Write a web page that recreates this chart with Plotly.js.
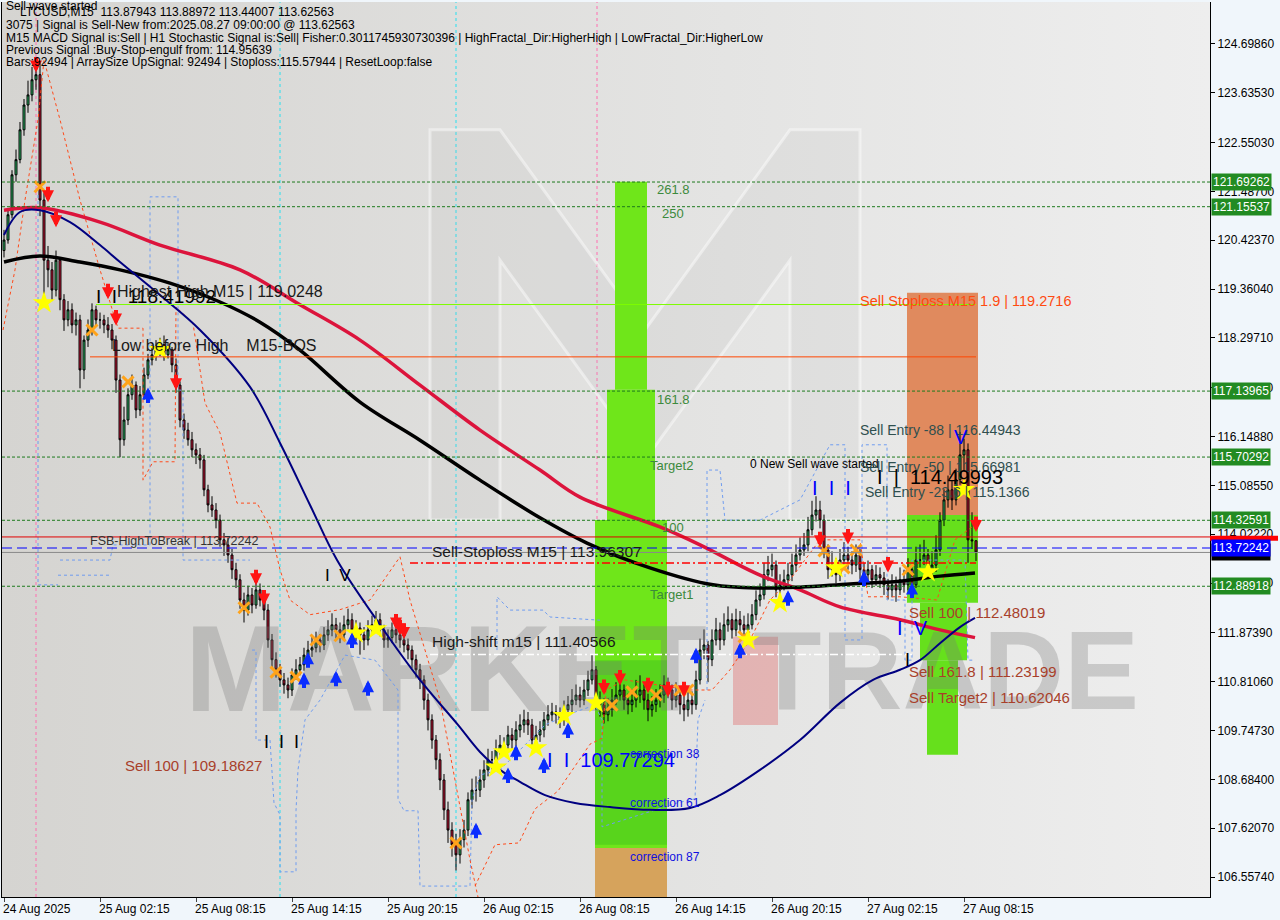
<!DOCTYPE html>
<html><head><meta charset="utf-8">
<script src="https://cdn.plot.ly/plotly-3.0.1.min.js"></script>
<style>html,body{margin:0;padding:0;background:#f0f6fb;}#chart{width:1280px;height:920px;}</style>
</head><body><div id="chart"></div>
<script>
// ---------- DATA ----------
const tickBars = [0,24,48,72,96,120,144,168,192,216,240];
const tickLabels = ['24 Aug 2025','25 Aug 02:15','25 Aug 08:15','25 Aug 14:15','25 Aug 20:15','26 Aug 02:15','26 Aug 08:15','26 Aug 14:15','26 Aug 20:15','27 Aug 02:15','27 Aug 08:15'];
const priceTicks = [124.6986,123.6353,122.5503,121.487,120.4237,119.3604,118.2971,117.2131,116.1488,115.0855,114.0222,112.9589,111.8739,110.8106,109.7473,108.684,107.6207,106.5574];

const open = [
120.20,120.43,120.98,121.85,122.18,122.83,123.37,123.59,123.92,124.03,
121.30,119.99,119.78,119.34,119.99,119.13,118.69,118.91,118.58,118.69,
117.60,118.25,118.47,118.91,118.69,118.69,118.58,118.47,118.25,117.38,
116.08,116.51,117.06,117.27,116.73,117.06,117.49,117.82,117.93,118.04,
118.15,117.93,118.04,117.71,117.27,116.51,116.29,116.08,115.86,115.75,
115.64,114.99,114.66,114.55,114.33,113.90,113.79,113.57,113.25,113.03,
112.59,112.37,112.70,112.48,112.81,112.59,112.37,111.72,111.29,111.07,
110.85,110.74,110.63,110.96,111.07,111.18,111.39,111.50,111.55,111.72,
111.61,111.83,111.94,112.05,111.94,111.83,112.05,112.16,111.94,111.98,
111.83,111.72,111.94,112.05,112.16,111.94,111.72,111.77,111.94,111.83,
111.72,111.61,111.50,111.29,111.07,110.85,110.41,109.98,109.54,109.11,
108.67,108.02,107.58,107.26,107.04,107.37,107.58,108.24,108.45,108.45,
108.67,108.89,109.11,109.11,109.33,109.43,109.43,109.65,109.54,109.76,
109.87,109.98,109.87,109.54,109.65,109.76,109.98,110.09,110.15,110.09,
109.98,110.20,110.31,110.41,110.52,110.41,110.63,110.85,111.07,110.41,
110.31,110.09,110.20,110.41,110.52,110.63,110.41,110.31,110.41,110.52,
110.63,110.41,110.20,110.31,110.41,110.52,110.74,110.63,110.41,110.52,
110.31,110.20,110.41,110.31,110.85,111.50,111.61,111.29,111.72,111.94,
111.72,112.05,112.16,111.94,112.16,112.05,111.94,112.05,112.27,112.59,
112.70,113.14,113.25,113.35,112.81,112.92,113.03,113.14,113.35,113.57,
113.68,113.79,114.12,114.44,114.55,114.33,113.68,113.25,113.35,113.14,
113.46,113.57,113.46,113.35,113.57,113.25,113.14,113.25,113.03,113.14,
113.07,112.92,112.81,112.92,112.81,113.03,112.92,113.25,112.92,113.46,
113.46,113.57,113.25,113.35,113.68,114.33,114.77,114.99,114.77,115.21,
115.75,115.86,113.90,113.88];
const high = [
120.65,121.10,121.95,122.40,123.00,123.50,123.90,124.20,124.40,124.30,
121.45,120.30,119.95,120.20,120.05,119.25,119.10,119.05,118.85,118.80,
118.35,118.70,119.05,119.00,118.85,118.80,118.75,118.60,118.35,117.50,
116.80,117.20,117.50,117.35,117.25,117.65,117.95,118.15,118.25,118.30,
118.35,118.20,118.10,117.85,117.35,116.65,116.45,116.25,116.00,115.90,
115.75,115.10,114.85,114.70,114.45,114.05,113.95,113.70,113.40,113.15,
112.75,112.90,112.85,113.00,112.95,112.70,112.50,111.85,111.45,111.20,
111.00,110.90,111.10,111.30,111.35,111.55,111.70,111.80,111.90,111.85,
112.00,112.15,112.30,112.20,112.10,112.25,112.40,112.30,112.15,112.10,
112.00,112.15,112.25,112.35,112.30,112.05,111.95,112.10,112.05,111.95,
111.85,111.75,111.60,111.40,111.20,110.95,110.55,110.10,109.65,109.25,
108.80,108.20,107.75,107.50,107.60,107.80,108.40,108.70,108.75,108.90,
109.10,109.35,109.30,109.55,109.65,109.60,109.85,109.80,109.95,110.10,
110.20,110.15,110.00,109.85,109.95,110.15,110.30,110.35,110.30,110.25,
110.40,110.50,110.65,110.75,110.70,110.85,111.05,111.40,111.15,110.60,
110.45,110.45,110.65,110.80,111.00,110.75,110.55,110.65,110.85,110.95,
110.75,110.55,110.50,110.65,110.75,110.95,110.90,110.75,110.80,110.65,
110.50,110.65,110.60,111.05,111.75,111.95,111.70,111.95,112.20,112.10,
112.30,112.45,112.30,112.40,112.35,112.25,112.30,112.50,112.80,112.95,
113.40,113.55,113.60,113.45,113.15,113.25,113.40,113.60,113.80,113.95,
114.05,114.40,114.75,114.85,114.75,114.45,113.80,113.65,113.50,113.70,
113.85,113.75,113.65,113.80,113.70,113.40,113.45,113.35,113.35,113.30,
113.20,113.05,113.15,113.10,113.30,113.25,113.50,113.35,113.75,113.80,
113.90,113.70,113.65,114.00,114.50,115.00,115.30,115.20,115.45,116.25,
116.10,116.00,114.50,113.89];
const low = [
120.05,120.35,120.90,121.70,122.10,122.70,123.20,123.45,123.70,120.95,
119.10,119.40,119.10,119.20,118.90,118.45,118.55,118.40,118.35,117.20,
117.40,118.10,118.35,118.55,118.50,118.40,118.30,118.05,117.10,115.70,
115.95,116.40,116.95,116.55,116.60,116.95,117.40,117.70,117.80,117.90,
117.80,117.85,117.55,117.10,116.35,116.10,115.95,115.70,115.55,115.45,
114.85,114.50,114.40,114.15,113.75,113.55,113.40,113.05,112.85,112.40,
112.10,112.25,112.30,112.40,112.45,112.15,111.55,111.10,110.90,110.70,
110.55,110.45,110.50,110.85,110.95,111.05,111.30,111.35,111.45,111.45,
111.50,111.70,111.80,111.75,111.65,111.70,111.95,111.75,111.70,111.40,
111.50,111.60,111.85,111.95,111.80,111.55,111.55,111.65,111.65,111.55,
111.45,111.30,111.10,110.90,110.65,110.20,109.75,109.35,108.90,108.45,
107.80,107.30,107.00,106.70,106.85,107.20,107.45,108.05,108.20,108.30,
108.50,108.75,108.90,108.95,109.20,109.25,109.30,109.35,109.40,109.60,
109.70,109.65,109.35,109.40,109.50,109.60,109.85,109.95,109.90,109.80,
109.85,110.10,110.15,110.30,110.25,110.30,110.50,110.75,110.20,110.05,
109.90,109.95,110.05,110.30,110.40,110.20,110.10,110.15,110.25,110.35,
110.20,109.95,110.05,110.15,110.25,110.35,110.45,110.20,110.25,110.10,
109.95,110.05,110.10,110.20,110.75,111.30,110.80,111.15,111.60,111.50,
111.60,111.90,111.75,111.80,111.85,111.70,111.80,111.95,112.15,112.45,
112.60,113.00,113.10,112.65,112.70,112.80,112.90,113.00,113.20,113.45,
113.55,113.65,114.00,114.30,114.15,113.50,113.05,113.10,112.95,113.00,
113.30,113.25,113.15,113.20,113.05,112.95,113.00,112.85,112.90,112.85,
112.70,112.60,112.65,112.55,112.70,112.75,112.80,112.70,112.85,113.30,
113.35,113.10,113.10,113.20,113.55,114.20,114.60,114.55,114.65,115.10,
115.40,113.40,113.70,113.44];
const close = [
120.43,120.98,121.85,122.18,122.83,123.37,123.59,123.92,124.03,121.30,
119.99,119.78,119.34,119.99,119.13,118.69,118.91,118.58,118.69,117.60,
118.25,118.47,118.91,118.69,118.69,118.58,118.47,118.25,117.38,116.08,
116.51,117.06,117.27,116.73,117.06,117.49,117.82,117.93,118.04,118.15,
117.93,118.04,117.71,117.27,116.51,116.29,116.08,115.86,115.75,115.64,
114.99,114.66,114.55,114.33,113.90,113.79,113.57,113.25,113.03,112.59,
112.37,112.70,112.48,112.81,112.59,112.37,111.72,111.29,111.07,110.85,
110.74,110.63,110.96,111.07,111.18,111.39,111.50,111.55,111.72,111.61,
111.83,111.94,112.05,111.94,111.83,112.05,112.16,111.94,111.98,111.83,
111.72,111.94,112.05,112.16,111.94,111.72,111.77,111.94,111.83,111.72,
111.61,111.50,111.29,111.07,110.85,110.41,109.98,109.54,109.11,108.67,
108.02,107.58,107.26,107.04,107.37,107.58,108.24,108.45,108.45,108.67,
108.89,109.11,109.11,109.33,109.43,109.43,109.65,109.54,109.76,109.87,
109.98,109.87,109.54,109.65,109.76,109.98,110.09,110.15,110.09,109.98,
110.20,110.31,110.41,110.52,110.41,110.63,110.85,111.07,110.41,110.31,
110.09,110.20,110.41,110.52,110.63,110.41,110.31,110.41,110.52,110.63,
110.41,110.20,110.31,110.41,110.52,110.74,110.63,110.41,110.52,110.31,
110.20,110.41,110.31,110.85,111.50,111.61,111.29,111.72,111.94,111.72,
112.05,112.16,111.94,112.16,112.05,111.94,112.05,112.27,112.59,112.70,
113.14,113.25,113.35,112.81,112.92,113.03,113.14,113.35,113.57,113.68,
113.79,114.12,114.44,114.55,114.33,113.68,113.25,113.35,113.14,113.46,
113.57,113.46,113.35,113.57,113.25,113.14,113.25,113.03,113.14,113.07,
112.92,112.81,112.92,112.81,113.03,112.92,113.25,112.92,113.46,113.46,
113.57,113.25,113.35,113.68,114.33,114.77,114.99,114.77,115.21,115.75,
115.86,113.90,113.88,113.63];

// moving averages (bar, price)
const maBlackBar = [0,9,19,29,41.5,54,64,74,89,104,119,134,145.75,161.5,177.25,189,199,211.5,224,234,242.75];
const maBlackVal = [119.95,120.08,119.95,119.78,119.49,119.08,118.64,118.03,116.90,116.07,115.20,114.38,113.83,113.29,112.92,112.85,112.87,112.94,113.00,113.11,113.18];
const maRedBar = [0,9,24,39,59,74,89,104,119,134,144,164,174,189,199,209,224,234,242.75];
const maRedVal = [121.08,121.13,120.82,120.32,119.78,119.02,118.25,117.27,116.29,115.42,114.83,114.18,113.79,113.13,112.81,112.44,112.16,111.94,111.77];
const maNavyBar = [0,4,9,16.5,24,29,39,49,61.5,69,76.5,83.25,94,104,113.5,119,124,129,135.25,142.75,151.5,161.5,171.5,179,189,199,209,217.25,224,229,234,239,242.75];
const maNavyVal = [120.54,121.04,121.08,120.82,120.32,119.95,119.23,118.47,117.23,116.01,114.66,113.46,112.05,110.85,109.87,109.28,108.89,108.63,108.34,108.17,108.08,108.02,108.06,108.34,108.89,109.54,110.35,110.85,111.07,111.28,111.65,112.00,112.20];

// trailing-stop dashed lines (bar, price)
const stopABar = [-0.25,2.75,5.25,8.5,10,14,19,24,28.5,34.75,34.75,37.25,42.75,43,47.25,50.25,54,58.25,63.25,66.5,69,71.5,76.5,84,91.5,99,101.5,105.25,109,112.75,116.5,118.5];
const stopAVal = [118.47,119.78,121.30,123.05,124.35,123.05,121.30,119.78,118.51,118.51,115.20,115.60,115.60,118.97,118.62,116.88,116.23,114.70,114.70,114.18,113.25,112.59,112.27,112.38,112.59,113.53,112.59,111.50,110.41,108.67,106.93,106.12];
const stopBBar = [117.75,122.75,128.75,132.75,138.5,146.5,149.5,150.5,155.25,164,171.5,177,181.5,186.5,191.5,196.5,204,214,216,224,233.25,237.75,242.75];
const stopBVal = [106.36,107.26,107.30,108.04,108.43,109.45,109.58,110.63,110.85,110.74,110.63,110.63,111.07,111.72,112.59,113.03,113.90,113.90,112.66,112.66,112.59,113.90,114.23];

// fractal channel dashed line (bar, price; null = gap)
const fractalBar = [8.5,8.5,13.5,null,13.5,26.5,null,14,26.5,27.25,36.5,36.5,43.5,43.5,44.75,44.75,61.5,null,
  62,63,63,66.5,67.5,69,69,73,73,73.5,75.25,79,85.25,92.75,98.5,98.5,100,103.5,104,116.5,117,119,124,129,135.25,142.75,147.75,149.5,149.5,168.25,172.75,173.5,175.25,null,
  123.25,123.25,126.5,134.75,136.5,149,null,
  175.75,175.75,179,180.25,189,199,206.5,210.25,210.25,214.5,214.5,220.75,220.75,225.25,225.25,227,227,240.25,241,242.75];
const fractalVal = [121.41,112.92,112.92,null,113.13,113.13,null,113.46,113.46,113.79,113.79,121.37,121.37,117.16,117.16,113.46,113.46,null,
  111.50,111.50,109.54,109.54,108.17,107.91,106.67,106.67,108.00,108.89,109.98,110.41,111.39,111.28,110.63,108.26,108.00,108.00,106.36,106.36,108.24,108.78,108.89,109.32,109.87,110.15,110.30,109.98,107.65,108.17,108.26,109.98,110.41,null,
  111.50,112.66,112.37,112.37,112.22,112.15,null,
  110.63,115.42,115.42,114.33,114.33,114.77,115.97,115.97,111.72,111.72,115.97,115.97,112.59,112.59,111.28,111.28,113.46,113.46,111.28,111.28];

// signal markers (bar, price)
const starBar = [10,39,88,93,123,125,133,140,148,186,194,208,231,240];
const starVal = [119.06,118.04,111.87,111.96,108.95,109.28,109.37,110.07,110.35,111.72,112.53,113.29,113.20,114.99];
const crossBar = [9,22,31,60,68,73,78,84,113,152,157,163,169,171,185,205,210,213,226];
const crossVal = [121.59,118.47,117.34,112.42,111.02,110.91,111.72,111.81,107.30,110.30,110.59,110.52,110.63,110.63,111.79,113.66,113.29,113.68,113.25];
const downBar = [8,11,13,26,28,43,63,65,98,99,100,150,154,161,166,170,204,211,221,243];
const downVal = [124.08,121.25,120.71,119.14,118.57,117.16,112.91,112.47,111.95,111.82,111.74,110.52,110.73,110.56,110.47,110.47,113.74,113.80,113.19,114.07];
const upBar = [36,75,76,83,87,91,118,126,128,135,141,173,184,196,215,227];
const upVal = [117.22,111.01,111.45,111.05,111.88,110.84,107.74,108.94,109.44,109.16,109.92,111.55,111.66,112.80,113.23,112.97];

// levels
const greenLevels = [121.69262,121.15537,117.13965,115.70292,114.32591,112.88918];
const sellStoploss = 113.96307, fsbHigh = 113.72242, lastPrice = 113.62563;
const highestHigh = 119.0248, lowBeforeHigh = 117.885, highShift = 111.40566, redDashLevel = 113.396;

// zones: [barFrom, barTo, priceLow, priceHigh]
const fibZones = [[152.75,160.75,117.17,121.70],[150.75,162.75,114.33,117.17],[147.75,165.75,107.19,114.33]];
const fibBase = [147.75,165.75,106.12,107.19];
const sellStopZone = [225.75,243.5,114.44,119.28];
const sellZones = [[225.75,243.5,112.53,114.44],[229,240.75,111.28,112.53],[230.75,238.5,109.22,111.28]];

// ---------- BUILD ----------
const bar = close.map((_, i) => i);
const FONT = 'Liberation Sans, Arial, sans-serif';

const traces = [];
traces.push({type:'scatter', mode:'text', x:[110.5], y:[110.83], text:['MARKET'], textfont:{family:FONT, size:122, color:'rgba(120,120,120,0.30)', weight:'bold'}, hoverinfo:'skip'});
traces.push({type:'scatter', mode:'text', x:[235.5], y:[110.83], text:['TRADE'], textfont:{family:FONT, size:112, color:'rgba(120,120,120,0.30)', weight:'bold'}, hoverinfo:'skip'});

traces.push({type:'scatter', mode:'lines', x:fractalBar, y:fractalVal, connectgaps:false, line:{color:'#6f9cf0', width:1, dash:'3px,3px'}, hoverinfo:'skip'});
traces.push({type:'scatter', mode:'lines', x:stopABar, y:stopAVal, line:{color:'#ff4a1a', width:1, dash:'3px,3px'}, hoverinfo:'skip'});
traces.push({type:'scatter', mode:'lines', x:stopBBar, y:stopBVal, line:{color:'#ff4a1a', width:1, dash:'3px,3px'}, hoverinfo:'skip'});

traces.push({type:'scatter', mode:'lines', x:maRedBar, y:maRedVal, line:{color:'#dc143c', width:3.5, shape:'spline'}, hoverinfo:'skip'});
traces.push({type:'scatter', mode:'lines', x:maBlackBar, y:maBlackVal, line:{color:'#000000', width:3.5, shape:'spline'}, hoverinfo:'skip'});
traces.push({type:'scatter', mode:'lines', x:maNavyBar, y:maNavyVal, line:{color:'#000080', width:2, shape:'spline'}, hoverinfo:'skip'});

traces.push({type:'candlestick', x:bar, open:open, high:high, low:low, close:close,
  increasing:{line:{color:'#000', width:1}, fillcolor:'#2fbf6a'},
  decreasing:{line:{color:'#000', width:1}, fillcolor:'#d4173a'},
  whiskerwidth:0, hoverinfo:'skip'});

traces.push({type:'scatter', mode:'markers', x:crossBar, y:crossVal, marker:{symbol:'x-thin', size:11, line:{color:'#ffa31a', width:3}}, hoverinfo:'skip'});
traces.push({type:'scatter', mode:'markers', x:starBar, y:starVal, marker:{symbol:'star', size:17, color:'#ffff00', line:{width:0}}, hoverinfo:'skip'});

// shapes
const shapes = [];
shapes.push({type:'path', xref:'x', yref:'y', path:'M106.5,114.33 L106.5,122.83 L124,122.83 L160.25,118.47 L196.5,122.83 L214,122.83 L214,114.33 L196.5,114.33 L196.5,119.99 L160.25,115.64 L124,119.99 L124,114.33 Z', fillcolor:'rgba(175,175,175,0.13)', line:{color:'rgba(255,255,255,0.45)', width:3}, layer:'below'});
const rect = (z, color) => ({type:'rect', xref:'x', yref:'y', x0:z[0], x1:z[1], y0:z[2], y1:z[3], fillcolor:color, line:{width:0}, layer:'below'});
fibZones.forEach(z => shapes.push(rect(z, '#6fe61a')));
shapes.push(rect([147.75,165.75,107.26,111.28], 'rgba(60,190,30,0.45)'));
shapes.push(rect(fibBase, '#d6a35c'));
shapes.push(rect(sellStopZone, '#e08a5e'));
sellZones.forEach(z => shapes.push(rect(z, '#66e01c')));
shapes.push({type:'rect', xref:'x', yref:'y', x0:182.25, x1:193.5, y0:109.87, y1:111.79, fillcolor:'rgba(225,120,120,0.45)', line:{width:0}, layer:'below'});

const vline = (b, color) => ({type:'line', xref:'x', yref:'paper', x0:b, x1:b, y0:0, y1:1, line:{color:color, width:1, dash:'3px,3px'}, layer:'below'});
shapes.push(vline(8, '#ff6fb0'), vline(148.25, '#ff6fb0'), vline(69, '#27e0f0'), vline(113, '#27e0f0'));

const hline = (p, color, dash, x0, x1, w) => ({type:'line', xref: x0===undefined?'paper':'x', yref:'y', x0: x0===undefined?0:x0, x1: x1===undefined?1:x1, y0:p, y1:p, line:{color:color, width:w||1, dash:dash}});
greenLevels.forEach(p => shapes.push(hline(p, '#1e7b1e', '3px,2px')));
shapes.push(hline(sellStoploss, '#e00000', 'solid'));
shapes.push(hline(fsbHigh, '#0000ff', '10px,5px'));
shapes.push(hline(lastPrice, '#8a8a8a', 'solid'));
shapes.push(hline(highestHigh, '#7cfc00', 'solid', 23, 243));
shapes.push(hline(lowBeforeHigh, '#ff4500', 'solid', 21.5, 243));
shapes.push(hline(redDashLevel, '#ff0000', '8px,3px,2px,3px', 101.5, 243, 1.5));
shapes.push(hline(highShift, '#ffffff', '8px,3px,2px,3px', 106.5, 227, 1.5));
shapes.push({type:'rect', xref:'paper', yref:'y', x0:1, x1:1.0563, y0:113.88, y1:113.99, fillcolor:'#ff0000', line:{width:0}, layer:'above'});

// annotations
const ann = [];
// signal arrows (stem + head), drawn at the data points
downBar.forEach((b, i) => ann.push({xref:'x', yref:'y', x:b, y:downVal[i], text:'', showarrow:true, arrowhead:2, arrowsize:0.6, arrowwidth:4, arrowcolor:'#ff1414', ax:0, ay:-17, standoff:0}));
upBar.forEach((b, i) => ann.push({xref:'x', yref:'y', x:b, y:upVal[i], text:'', showarrow:true, arrowhead:2, arrowsize:0.6, arrowwidth:4, arrowcolor:'#0a2cff', ax:0, ay:17, standoff:0}));

const T = (b, p, text, color, size) => ann.push({xref:'x', yref:'y', x:b, y:p, text:text, showarrow:false, xanchor:'left', yanchor:'middle', font:{family:FONT, size:size, color:color}});
const headerY = px => 1 - (px - 2) / 895;
const H = (px, x, text) => ann.push({xref:'paper', yref:'paper', x:x, y:headerY(px), text:text, showarrow:false, xanchor:'left', yanchor:'middle', font:{family:FONT, size:12, color:'#000'}});
H(6, 0.002, 'Sell wave started');
H(12, 0.013, 'LTCUSD,M15  113.87943 113.88972 113.44007 113.62563');
H(25, 0.002, '3075 | Signal is Sell-New from:2025.08.27 09:00:00 @ 113.62563');
H(38, 0.002, 'M15 MACD Signal is:Sell | H1 Stochastic Signal is:Sell| Fisher:0.3011745930730396 | HighFractal_Dir:HigherHigh | LowFractal_Dir:HigherLow');
H(50, 0.002, 'Previous Signal :Buy-Stop-engulf from: 114.95639');
H(62, 0.002, 'Bars:92494 | ArraySize UpSignal: 92494 | Stoploss:115.57944 | ResetLoop:false');

T(22.5, 119.20, 'I  I  118.41992', '#000', 19);
T(27.75, 119.30, 'Highest High M15 | 119.0248', '#1a1a1a', 16);
T(26.5, 118.14, 'Low before High    M15-BOS', '#1a1a1a', 16);
T(21, 113.87, 'FSB-HighToBreak | 113.72242', '#333', 12.5);
T(106.5, 113.65, 'Sell-Stoploss M15 | 113.96307', '#1a1a1a', 15.5);
T(106.5, 111.68, 'High-shift m15 | 111.40566', '#1a1a1a', 15.5);
T(29.75, 108.99, 'Sell 100 | 109.18627', '#a8402a', 15);
T(64.5, 109.50, 'I  I  I', '#000', 18);
T(79.75, 113.13, 'I  V', '#000', 17);
T(135.25, 109.11, 'I  I  109.77294', '#0000ff', 20);
T(156, 109.24, 'correction 38', '#1010e0', 12);
T(156, 108.17, 'correction 61', '#1010e0', 12);
T(156, 106.99, 'correction 87', '#1010e0', 12);
T(162.75, 121.52, '261.8', '#3c8a3c', 13);
T(164, 121.00, '250', '#3c8a3c', 13);
T(162.75, 116.95, '161.8', '#3c8a3c', 13);
T(161, 115.51, 'Target2', '#3c8a3c', 13);
T(164, 114.16, '100', '#3c8a3c', 13);
T(161, 112.72, 'Target1', '#3c8a3c', 13);
T(186, 115.55, '0 New Sell wave started', '#000', 12);
T(213.5, 119.10, 'Sell Stoploss M15 1.9 | 119.2716', '#ff4a10', 14.5);
T(213.5, 116.29, 'Sell Entry -88 | 116.44943', '#2f4f4f', 14);
T(213.5, 115.49, 'Sell Entry -50 | 115.66981', '#2f4f4f', 14);
T(217.75, 115.27, 'I  |  114.49993', '#000', 20);
T(214.75, 114.94, 'Sell Entry -23.6 | 115.1366', '#2f4f4f', 14);
T(225.75, 112.31, 'Sell 100 | 112.48019', '#a8402a', 15);
T(225.75, 111.04, 'Sell 161.8 | 111.23199', '#a8402a', 15);
T(225.75, 110.46, 'Sell Target2 | 110.62046', '#a8402a', 15);
T(201.5, 115.03, 'I  I  I', '#0000ff', 20);
T(237, 116.14, 'V', '#0000ff', 20);
T(222.75, 111.98, 'I  V', '#0000ff', 20);
T(224.75, 111.28, 'I', '#000', 18);

tickBars.forEach((b, i) => ann.push({xref:'x', yref:'paper', x:b, y:0, yanchor:'top', xanchor:'left', xshift:-3, yshift:-3, text:tickLabels[i], showarrow:false, font:{family:FONT, size:12, color:'#000'}}));

const box = (p, bg, fg) => ann.push({xref:'paper', yref:'y', x:1, y:p, xanchor:'left', yanchor:'middle', xshift:1, text:p.toFixed(5), showarrow:false, bgcolor:bg, borderpad:1, font:{family:FONT, size:12, color:fg}});
greenLevels.forEach(p => box(p, '#228b22', '#ffffff'));
box(lastPrice, '#000000', '#ffffff');
box(fsbHigh, '#0000ff', '#ffffff');

const bgSvg = '<svg xmlns="http://www.w3.org/2000/svg" width="100" height="100" preserveAspectRatio="none"><defs><linearGradient id="g" x1="0" x2="1" y1="0" y2="0"><stop offset="0" stop-color="#d5d4d1"/><stop offset="0.6" stop-color="#e4e4e3"/><stop offset="1" stop-color="#eeeeee"/></linearGradient></defs><rect width="100" height="100" fill="url(#g)"/></svg>';

const layout = {
  width:1280, height:920,
  margin:{l:2, r:70, t:2, b:23},
  paper_bgcolor:'#f0f6fb', plot_bgcolor:'#e2e2e2',
  showlegend:false,
  xaxis:{range:[-0.5,301.5], showgrid:false, zeroline:false, showline:true, linecolor:'#000', linewidth:1,
         ticks:'outside', ticklen:4, tickcolor:'#444', tickvals:tickBars, showticklabels:false,
         rangeslider:{visible:false}, fixedrange:true},
  yaxis:{range:[106.122,125.613], side:'right', showgrid:false, zeroline:false, showline:true, mirror:true,
         linecolor:'#000', linewidth:1, ticks:'outside', ticklen:4, tickcolor:'#000',
         tickvals:priceTicks, ticktext:priceTicks.map(v => v.toFixed(5)),
         tickfont:{family:FONT, size:12, color:'#000'}, fixedrange:true},
  shapes:shapes, annotations:ann,
  images:[{source:'data:image/svg+xml;charset=utf-8,' + encodeURIComponent(bgSvg), xref:'paper', yref:'paper', x:0, y:1, sizex:1, sizey:1, sizing:'stretch', xanchor:'left', yanchor:'top', layer:'below'}]
};
Plotly.newPlot('chart', traces, layout, {staticPlot:true, displayModeBar:false});
</script></body></html>
